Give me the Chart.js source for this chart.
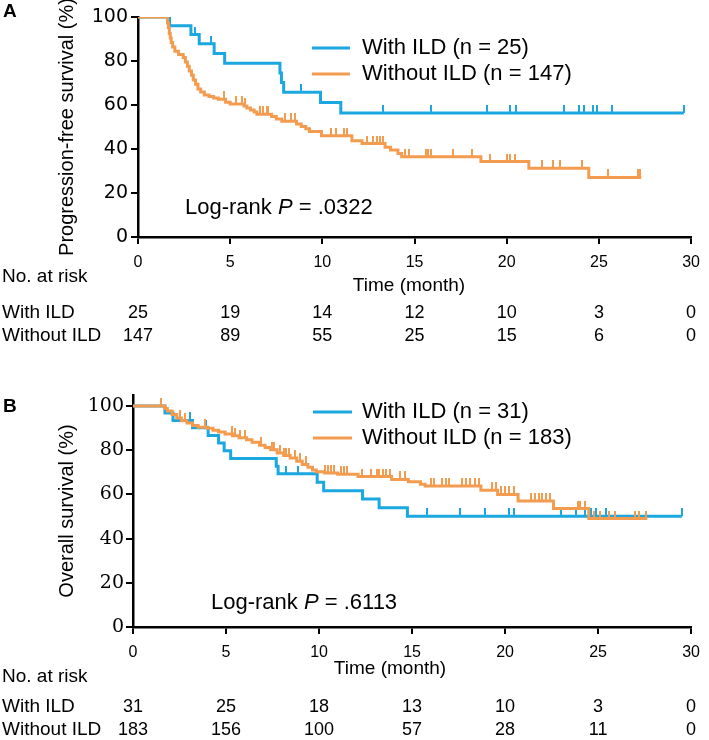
<!DOCTYPE html>
<html>
<head>
<meta charset="utf-8">
<script src="https://cdn.jsdelivr.net/npm/chart.js@4.4.1/dist/chart.umd.min.js"></script>
<style>
  body { margin: 0; background: #fff; }
  #wrap { position: relative; width: 709px; height: 740px; }
  canvas { position: absolute; left: 0; }
  #chartA { top: 0; }
  #chartB { top: 370px; }
</style>
</head>
<body>
<div id="wrap">
  <canvas id="chartA" width="709" height="370"></canvas>
  <canvas id="chartB" width="709" height="370"></canvas>
</div>
<script>
const timeTicks = [0, 5, 10, 15, 20, 25, 30];
const groupNames = ['With ILD', 'Without ILD'];

// A - progression-free survival (time in months, survival in %)
const pfsN = [25, 147];
const pfsIldTime = [0, 1.71, 2.87, 3.32, 4.13, 4.70, 7.70, 7.78, 7.90, 9.90, 11.0, 29.6];
const pfsIldSurv = [100, 96, 92, 87.8, 83.4, 79.0, 74.6, 70.2, 65.8, 61.1, 56.4, 56.4];
const pfsIldCensor = [3.1, 3.98, 8.86, 13.3, 15.9, 18.95, 20.2, 20.5, 23.1, 23.9, 24.2, 24.7, 24.9, 25.7, 29.6];
const pfsNoIldTime = [0, 1.60, 1.65, 1.70, 1.75, 1.80, 1.88, 2.0, 2.2, 2.45, 2.57, 2.68, 2.78, 2.9, 3.0, 3.12, 3.25, 3.4, 3.6, 3.85,
  4.1, 4.35, 4.75, 5.0, 5.75, 5.9, 6.1, 6.3, 6.45, 7.25, 7.5, 7.8, 8.6, 8.85, 9.1, 9.3, 9.95, 11.6, 12.15, 13.4,
  13.7, 14.1, 14.3, 18.6, 21.2, 24.45, 27.3];
const pfsNoIldSurv = [100, 97.3, 95.2, 92.5, 90.5, 88.4, 86.4, 84.4, 83.0, 81.6, 79.6, 77.6, 75.5, 73.5, 71.4, 69.4, 67.3, 65.9, 64.6, 63.9,
  63.2, 62.6, 61.2, 60.5, 59.5, 58.6, 57.7, 56.8, 55.8, 54.8, 53.6, 52.6, 51.4, 50.2, 49.2, 48.0, 46.0, 43.8, 42.5, 40.8,
  39.6, 38.0, 36.5, 34.3, 31.2, 27.1, 27.1];
const pfsNoIldCensor = [4.66, 5.3, 5.64, 5.82, 6.6, 6.8, 6.98, 7.07, 7.95, 8.3, 8.5, 10.46, 10.73, 11.18, 11.36, 12.4, 12.75, 12.95,
  13.15, 13.3, 14.5, 14.7, 15.6, 15.75, 15.9, 17.1, 18.1, 19.1, 20.0, 20.2, 20.45, 21.9, 22.5, 22.9, 24.1, 25.5, 27.1, 27.25];
const pfsAtRiskIld = [25, 19, 14, 12, 10, 3, 0];
const pfsAtRiskNoIld = [147, 89, 55, 25, 15, 6, 0];

// B - overall survival
const osN = [31, 183];
const osIldTime = [0, 1.72, 2.15, 3.2, 4.04, 4.6, 4.9, 5.25, 7.7, 7.8, 9.9, 10.25, 12.34, 13.23, 14.75, 29.5];
const osIldSurv = [100, 96.8, 93.5, 90.2, 86.7, 83.3, 79.8, 76.3, 72.8, 69.4, 65.5, 61.7, 57.9, 54.0, 50.1, 50.1];
const osIldCensor = [3.05, 3.95, 8.23, 8.86, 15.8, 17.6, 18.9, 20.2, 20.5, 23.0, 23.8, 24.3, 24.6, 24.9, 25.4, 29.5];
const osNoIldTime = [0, 1.71, 1.85, 2.1, 2.35, 2.6, 2.9, 3.2, 3.5, 4.0, 4.3, 4.6, 4.95, 5.35, 5.7, 6.1, 6.4, 6.8, 7.1, 7.4,
  7.75, 8.1, 8.45, 8.8, 9.1, 9.4, 9.65, 9.85, 10.3, 11.0, 12.1, 13.9, 14.8, 15.45, 15.7, 18.7, 19.6, 20.7, 22.6, 24.5, 27.65];
const osNoIldSurv = [100, 98.9, 97.8, 96.2, 94.6, 93.4, 92.3, 91.2, 90.4, 89.9, 89.0, 88.2, 87.4, 86.6, 85.7, 84.8, 83.6, 82.3, 81.2, 80.2,
  78.8, 77.6, 76.5, 75.0, 73.6, 72.3, 71.0, 70.3, 69.7, 69.1, 68.1, 66.8, 65.7, 64.6, 63.8, 61.9, 60.0, 57.0, 53.6, 49.1, 49.1];
const osNoIldCensor = [1.5, 2.5, 2.8, 3.85, 5.3, 5.5, 5.75, 6.0, 6.9, 7.45, 7.6, 7.9, 8.1, 8.25, 8.4, 8.7, 9.0, 9.3, 10.3, 10.5,
  10.65, 10.8, 11.2, 11.35, 11.5, 12.3, 12.8, 13.1, 13.25, 13.45, 13.6, 13.8, 14.35, 14.6, 16.0, 16.2, 16.6, 16.8, 17.0, 17.7,
  17.9, 18.1, 18.4, 18.6, 19.3, 19.5, 19.8, 20.0, 20.2, 20.5, 21.4, 21.6, 21.8, 22.0, 22.2, 22.4, 23.9, 24.05, 24.3, 24.8,
  25.1, 25.6, 25.9, 27.0, 27.2, 27.6];
const osAtRiskIld = [31, 25, 18, 13, 10, 3, 0];
const osAtRiskNoIld = [183, 156, 100, 57, 28, 11, 0];

const BLUE = '#1ba7e0';
const ORANGE = '#f39c50';
const SANS = '"Liberation Sans", Arial, sans-serif';

function survAt(times, surv, t) {
    var s = surv[0];
    for (var i = 0; i < times.length; i++) {
        if (times[i] <= t) s = surv[i];
    }
    return s;
}

// small vertical tick above the curve for censored cases
function tickImage(color) {
    var c = document.createElement('canvas');
    c.width = 2;
    c.height = 16;
    var g = c.getContext('2d');
    g.fillStyle = color;
    g.fillRect(0, 0, 2, 8);
    return c;
}

function kmDatasets(time, surv, censor, color, order) {
    return [{
        data: time.map((t, i) => ({x: t, y: surv[i]})),
        stepped: 'before',
        borderColor: color,
        borderWidth: 3,
        pointRadius: 0,
        fill: false,
        order: order + 1
    }, {
        data: censor.map(t => ({x: t, y: survAt(time, surv, t)})),
        showLine: false,
        pointStyle: tickImage(color),
        pointRadius: 3,
        pointHoverRadius: 3,
        order: order
    }];
}

const kmExtras = {
    id: 'kmExtras',
    afterDraw(chart, args, o) {
        const ctx = chart.ctx;
        const xs = chart.scales.x;
        ctx.save();
        ctx.fillStyle = '#000';
        ctx.textBaseline = 'middle';
        ctx.textAlign = 'left';

        ctx.font = 'bold 19px ' + SANS;
        ctx.fillText(o.letter, 3, o.letterY);

        // legend
        o.legend.forEach((item, i) => {
            ctx.strokeStyle = item.color;
            ctx.lineWidth = 3;
            ctx.beginPath();
            ctx.moveTo(o.legendX1, o.legendY[i]);
            ctx.lineTo(o.legendX2, o.legendY[i]);
            ctx.stroke();
            ctx.font = '22px ' + SANS;
            ctx.fillText(item.label, o.legendTextX, o.legendY[i]);
        });

        // log-rank text with italic P
        var x = o.logRankX;
        ctx.font = '22px ' + SANS;
        ctx.fillText('Log-rank ', x, o.logRankY);
        x += ctx.measureText('Log-rank ').width;
        ctx.font = 'italic 22px ' + SANS;
        ctx.fillText('P', x, o.logRankY);
        x += ctx.measureText('P').width;
        ctx.font = '22px ' + SANS;
        ctx.fillText(' = ' + o.pValue, x, o.logRankY);

        // x axis title
        ctx.textAlign = 'center';
        ctx.font = '19px ' + SANS;
        ctx.fillText('Time (month)', o.timeX, o.timeY);

        // numbers at risk
        ctx.textAlign = 'left';
        ctx.font = '19px ' + SANS;
        ctx.fillText('No. at risk', 2, o.riskTitleY);
        o.atRisk.forEach((row, r) => {
            ctx.textAlign = 'left';
            ctx.font = '19px ' + SANS;
            ctx.fillText(groupNames[r], 2, o.riskY[r]);
            ctx.textAlign = 'center';
            ctx.font = '18px ' + SANS;
            row.forEach((v, i) => {
                ctx.fillText(String(v), xs.getPixelForValue(timeTicks[i]), o.riskY[r]);
            });
        });
        ctx.restore();
    }
};

function buildChart(id, c) {
    return new Chart(document.getElementById(id), {
        type: 'line',
        data: {
            datasets: kmDatasets(c.ildTime, c.ildSurv, c.ildCensor, BLUE, 2)
                .concat(kmDatasets(c.noTime, c.noSurv, c.noCensor, ORANGE, 0))
        },
        options: {
            responsive: false,
            animation: false,
            layout: { padding: c.padding },
            scales: {
                x: {
                    type: 'linear',
                    min: 0,
                    max: 30,
                    ticks: {
                        stepSize: 5,
                        color: '#000',
                        padding: 9,
                        font: { size: 16, family: SANS }
                    },
                    grid: { drawOnChartArea: false, drawTicks: true, tickLength: 7, color: '#000', lineWidth: 2 },
                    border: { display: true, color: '#000', width: 2.5 },
                    afterFit: function (scale) { scale.height = 40; }
                },
                y: {
                    type: 'linear',
                    min: 0,
                    max: c.yMax,
                    ticks: {
                        stepSize: 20,
                        includeBounds: false,
                        color: '#000',
                        padding: c.yTickPad,
                        font: { size: 19, family: c.yFont }
                    },
                    grid: { drawOnChartArea: false, drawTicks: true, tickLength: 7, color: '#000', lineWidth: 2 },
                    border: { display: true, color: '#000', width: 2.5 },
                    title: {
                        display: true,
                        text: c.yTitle,
                        color: '#000',
                        padding: { top: 55, bottom: 0 },
                        font: { size: 20, family: SANS }
                    },
                    afterBuildTicks: function (scale) {
                        scale.ticks = scale.ticks.filter(t => t.value <= 100);
                    },
                    afterFit: function (scale) { scale.width = c.yWidth; }
                }
            },
            plugins: {
                legend: { display: false },
                tooltip: { enabled: false },
                kmExtras: c.extras
            }
        },
        plugins: [kmExtras]
    });
}

buildChart('chartA', {
    ildTime: pfsIldTime, ildSurv: pfsIldSurv, ildCensor: pfsIldCensor,
    noTime: pfsNoIldTime, noSurv: pfsNoIldSurv, noCensor: pfsNoIldCensor,
    padding: { left: 0, top: 17, right: 11, bottom: 93 },
    yMax: 100, yWidth: 138, yTickPad: 3,
    yFont: '"DejaVu Sans", sans-serif',
    yTitle: 'Progression-free survival (%)',
    extras: {
        letter: 'A', letterY: 12,
        legend: [
            { label: groupNames[0] + ' (n = ' + pfsN[0] + ')', color: BLUE },
            { label: groupNames[1] + ' (n = ' + pfsN[1] + ')', color: ORANGE }
        ],
        legendX1: 312, legendX2: 350, legendTextX: 362, legendY: [48, 74],
        pValue: '.0322', logRankX: 185, logRankY: 208,
        timeX: 409, timeY: 286,
        riskTitleY: 277, riskY: [313, 336],
        atRisk: [pfsAtRiskIld, pfsAtRiskNoIld]
    }
});

buildChart('chartB', {
    ildTime: osIldTime, ildSurv: osIldSurv, ildCensor: osIldCensor,
    noTime: osNoIldTime, noSurv: osNoIldSurv, noCensor: osNoIldCensor,
    padding: { left: 0, top: 25, right: 16, bottom: 73 },
    yMax: 105, yWidth: 133, yTickPad: 2,
    yFont: '"DejaVu Serif", serif',
    yTitle: 'Overall survival (%)',
    extras: {
        letter: 'B', letterY: 37,
        legend: [
            { label: groupNames[0] + ' (n = ' + osN[0] + ')', color: BLUE },
            { label: groupNames[1] + ' (n = ' + osN[1] + ')', color: ORANGE }
        ],
        legendX1: 313, legendX2: 352, legendTextX: 362, legendY: [42, 68],
        pValue: '.6113', logRankX: 211, logRankY: 233,
        timeX: 390, timeY: 299,
        riskTitleY: 307, riskY: [337, 360],
        atRisk: [osAtRiskIld, osAtRiskNoIld]
    }
});
</script>
</body>
</html>
